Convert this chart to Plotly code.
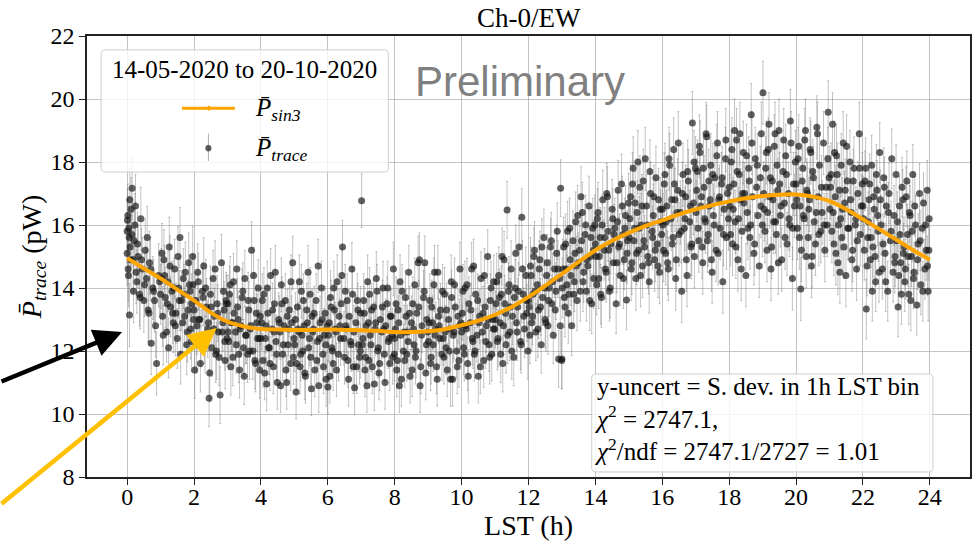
import plotly.graph_objects as go

# ---------------- data ----------------
fit_lst = [0, 0.5, 1, 1.5, 2, 2.5, 3, 3.5, 4, 4.5, 5, 5.5, 6, 6.5, 7, 7.5, 8, 8.5, 9, 9.5, 10, 10.5, 11, 11.5, 12,
           12.5, 13, 13.5, 14, 14.5, 15, 15.5, 16, 16.5, 17, 17.5, 18, 18.5, 19, 19.5, 20, 20.5, 21, 21.5, 22, 22.5,
           23, 23.5, 24]
fit_p = [14.95, 14.62, 14.3, 13.95, 13.6, 13.22, 12.93, 12.78, 12.7, 12.68, 12.67, 12.67, 12.68, 12.67, 12.66, 12.64,
         12.6, 12.6, 12.63, 12.69, 12.82, 12.96, 13.15, 13.4, 13.72, 14.07, 14.45, 14.83, 15.2, 15.5, 15.75, 15.97,
         16.15, 16.34, 16.5, 16.63, 16.75, 16.85, 16.92, 16.96, 16.97, 16.9, 16.76, 16.5, 16.18, 15.86, 15.53, 15.2,
         14.9]

# standard deviation in each 1h LST bin (y-uncertainty)
p_err_bin = [1.0, 0.95, 0.9, 0.9, 0.85, 0.85, 0.85, 0.85, 0.85, 0.85, 0.85, 0.9,
             0.9, 0.95, 0.95, 1.0, 1.0, 1.0, 1.0, 1.0, 1.0, 1.0, 0.95, 0.95]

lst_h = [
    0.00, 0.01, 0.03, 0.05, 0.07, 0.09, 0.12, 0.15, 0.18, 0.21, 0.25, 0.29, 0.33, 0.37, 0.41, 0.45, 0.50, 0.54, 0.58, 0.63, 0.67, 0.72, 0.77, 0.82, 0.88, 0.94,
    1.02, 1.06, 1.10, 1.14, 1.18, 1.22, 1.26, 1.30, 1.34, 1.38, 1.42, 1.46, 1.50, 1.54, 1.58, 1.62, 1.66, 1.70, 1.74, 1.78, 1.82, 1.86, 1.90, 1.93, 1.96, 1.99,
    2.02, 2.05, 2.09, 2.13, 2.17, 2.21, 2.25, 2.29, 2.33, 2.37, 2.41, 2.45, 2.49, 2.53, 2.57, 2.61, 2.65, 2.69, 2.73, 2.78, 2.82, 2.86, 2.90, 2.93, 2.96, 2.99,
    3.01, 3.04, 3.08, 3.12, 3.16, 3.20, 3.24, 3.28, 3.32, 3.36, 3.40, 3.44, 3.48, 3.52, 3.56, 3.60, 3.64, 3.68, 3.72, 3.76, 3.80, 3.84, 3.88, 3.92, 3.95, 3.98,
    4.02, 4.06, 4.09, 4.13, 4.17, 4.21, 4.25, 4.29, 4.33, 4.37, 4.41, 4.45, 4.49, 4.53, 4.57, 4.61, 4.65, 4.69, 4.73, 4.77, 4.81, 4.85, 4.89, 4.92, 4.95, 4.99,
    5.01, 5.05, 5.09, 5.13, 5.17, 5.21, 5.25, 5.29, 5.33, 5.37, 5.41, 5.45, 5.49, 5.53, 5.57, 5.61, 5.65, 5.69, 5.73, 5.77, 5.81, 5.85, 5.89, 5.92, 5.95, 5.98,
    6.00, 6.04, 6.08, 6.12, 6.16, 6.20, 6.24, 6.28, 6.32, 6.36, 6.40, 6.44, 6.48, 6.52, 6.56, 6.60, 6.64, 6.68, 6.72, 6.76, 6.80, 6.84, 6.88, 6.92, 6.95, 6.98,
    7.01, 7.05, 7.09, 7.13, 7.17, 7.21, 7.25, 7.29, 7.33, 7.37, 7.41, 7.45, 7.49, 7.53, 7.57, 7.61, 7.65, 7.69, 7.73, 7.77, 7.81, 7.85, 7.89, 7.93, 7.96, 7.99,
    8.02, 8.06, 8.10, 8.14, 8.18, 8.22, 8.26, 8.30, 8.34, 8.38, 8.42, 8.46, 8.50, 8.54, 8.58, 8.62, 8.66, 8.70, 8.74, 8.78, 8.82, 8.86, 8.90, 8.93, 8.96, 8.99,
    9.01, 9.05, 9.09, 9.13, 9.17, 9.21, 9.25, 9.29, 9.33, 9.37, 9.41, 9.45, 9.49, 9.53, 9.57, 9.61, 9.65, 9.69, 9.73, 9.77, 9.81, 9.85, 9.89, 9.92, 9.95, 9.98,
    10.02, 10.06, 10.10, 10.14, 10.18, 10.22, 10.26, 10.30, 10.34, 10.38, 10.42, 10.46, 10.50, 10.54, 10.58, 10.62, 10.66, 10.70, 10.74, 10.78, 10.82, 10.86, 10.90, 10.93, 10.96, 10.99,
    11.01, 11.05, 11.09, 11.13, 11.17, 11.21, 11.25, 11.29, 11.33, 11.36, 11.40, 11.44, 11.48, 11.52, 11.56, 11.60, 11.64, 11.68, 11.72, 11.76, 11.80, 11.84, 11.88, 11.92, 11.95, 11.98,
    12.02, 12.06, 12.10, 12.14, 12.18, 12.22, 12.26, 12.30, 12.34, 12.38, 12.42, 12.46, 12.50, 12.54, 12.58, 12.62, 12.66, 12.70, 12.74, 12.78, 12.82, 12.86, 12.90, 12.93, 12.96, 12.99,
    13.01, 13.05, 13.09, 13.13, 13.17, 13.21, 13.25, 13.29, 13.33, 13.37, 13.41, 13.45, 13.49, 13.53, 13.57, 13.61, 13.65, 13.69, 13.73, 13.77, 13.81, 13.85, 13.89, 13.92, 13.95, 13.98,
    14.02, 14.06, 14.10, 14.14, 14.18, 14.22, 14.26, 14.30, 14.34, 14.38, 14.42, 14.46, 14.50, 14.54, 14.58, 14.62, 14.66, 14.70, 14.74, 14.78, 14.82, 14.86, 14.90, 14.93, 14.96, 14.99,
    15.01, 15.05, 15.09, 15.13, 15.17, 15.21, 15.25, 15.29, 15.33, 15.37, 15.41, 15.45, 15.49, 15.53, 15.57, 15.61, 15.65, 15.69, 15.73, 15.77, 15.81, 15.85, 15.89, 15.92, 15.95, 15.98,
    16.02, 16.06, 16.10, 16.14, 16.18, 16.22, 16.26, 16.30, 16.34, 16.38, 16.42, 16.46, 16.50, 16.54, 16.58, 16.62, 16.66, 16.70, 16.74, 16.78, 16.82, 16.86, 16.90, 16.93, 16.96, 16.99,
    17.01, 17.05, 17.09, 17.13, 17.17, 17.21, 17.25, 17.29, 17.33, 17.37, 17.41, 17.45, 17.49, 17.53, 17.57, 17.61, 17.65, 17.69, 17.73, 17.77, 17.81, 17.85, 17.89, 17.92, 17.95, 17.98,
    18.02, 18.06, 18.10, 18.14, 18.18, 18.22, 18.26, 18.30, 18.34, 18.38, 18.42, 18.46, 18.50, 18.54, 18.58, 18.62, 18.66, 18.70, 18.74, 18.78, 18.82, 18.86, 18.90, 18.93, 18.96, 18.99,
    19.01, 19.05, 19.09, 19.13, 19.17, 19.21, 19.25, 19.29, 19.33, 19.37, 19.41, 19.45, 19.49, 19.53, 19.57, 19.61, 19.65, 19.69, 19.73, 19.77, 19.81, 19.85, 19.89, 19.92, 19.95, 19.98,
    20.02, 20.06, 20.10, 20.14, 20.18, 20.22, 20.26, 20.30, 20.34, 20.38, 20.42, 20.46, 20.50, 20.54, 20.58, 20.62, 20.66, 20.70, 20.74, 20.78, 20.82, 20.86, 20.90, 20.93, 20.96, 20.99,
    21.01, 21.05, 21.09, 21.13, 21.17, 21.21, 21.25, 21.29, 21.33, 21.37, 21.41, 21.45, 21.49, 21.53, 21.57, 21.61, 21.65, 21.69, 21.73, 21.77, 21.81, 21.85, 21.89, 21.92, 21.95, 21.98,
    22.02, 22.06, 22.10, 22.14, 22.18, 22.22, 22.26, 22.30, 22.34, 22.38, 22.42, 22.46, 22.50, 22.54, 22.58, 22.62, 22.66, 22.70, 22.74, 22.78, 22.82, 22.86, 22.90, 22.93, 22.96, 22.99,
    23.01, 23.05, 23.09, 23.13, 23.17, 23.21, 23.25, 23.29, 23.33, 23.37, 23.41, 23.45, 23.49, 23.53, 23.57, 23.61, 23.65, 23.69, 23.73, 23.77, 23.81, 23.85, 23.89, 23.92, 23.95, 23.98,
]

p_trace = [
    15.8, 16.15, 14.6, 15.9, 13.14, 15.3, 16.5, 17.17, 14.9, 15.5, 16.6, 14.2, 15.0, 13.8, 16.2, 14.6, 13.6, 15.2, 14.3, 13.3, 14.8, 12.25, 14.0, 13.6, 11.6, 14.4,
    14.3, 13.1, 14.9, 13.7, 12.6, 14.2, 15.3, 13.4, 13.9, 12.9, 14.6, 13.2, 12.4, 14.0, 15.6, 13.6, 12.9, 13.8, 14.5, 12.2, 13.3, 14.1, 12.7, 13.5, 15.0, 13.0,
    11.4, 13.6, 12.8, 14.2, 13.0, 12.4, 13.9, 14.7, 12.2, 13.4, 12.7, 10.5, 13.8, 12.1, 14.3, 13.1, 11.9, 13.5, 12.6, 10.6, 14.8, 12.9, 13.3, 11.7, 13.6, 12.4,
    13.5, 12.3, 14.1, 12.9, 11.8, 13.2, 12.6, 14.6, 13.0, 11.4, 12.8, 13.7, 12.1, 14.3, 12.5, 11.9, 13.3, 12.7, 15.2, 12.0, 13.6, 11.6, 12.9, 14.0, 12.4, 13.1,
    12.9, 11.7, 13.8, 12.4, 10.95, 13.2, 12.1, 14.4, 12.7, 11.5, 13.5, 12.3, 11.0, 13.0, 12.6, 14.1, 11.9, 12.8, 13.6, 11.0, 12.2, 13.3, 11.6, 12.9, 14.8, 12.4,
    12.2, 10.7, 13.4, 12.6, 11.5, 13.9, 12.0, 12.8, 11.2, 13.3, 14.5, 12.4, 11.8, 13.1, 12.7, 11.4, 13.6, 12.3, 10.9, 12.9, 14.0, 11.9, 12.5, 13.2, 11.1, 12.8,
    10.86, 12.9, 13.7, 12.1, 11.6, 13.3, 12.6, 14.2, 11.9, 12.8, 13.5, 15.3, 12.4, 13.9, 12.7, 11.7, 13.1, 12.3, 14.6, 11.5, 10.83, 12.9, 13.6, 12.2, 11.8, 13.2,
    16.77, 12.4, 13.2, 11.8, 10.9, 12.9, 13.8, 12.2, 11.5, 13.4, 12.7, 14.3, 12.0, 11.3, 13.0, 12.6, 14.0, 11.9, 12.8, 13.5, 12.3, 11.6, 13.1, 12.5, 14.6, 11.9,
    12.7, 11.4, 13.3, 10.9, 12.5, 13.9, 12.0, 11.7, 13.1, 12.6, 14.5, 11.2, 12.9, 13.5, 12.2, 11.8, 13.2, 14.8, 14.9, 11.5, 12.8, 13.7, 14.8, 11.3, 13.0, 12.6,
    12.3, 13.6, 11.8, 12.9, 14.1, 12.5, 11.5, 14.5, 12.8, 13.3, 11.9, 12.4, 13.8, 12.1, 11.4, 13.0, 12.7, 14.2, 11.1, 12.6, 13.4, 12.0, 13.1, 11.7, 14.6, 12.9,
    13.2, 12.1, 14.0, 12.7, 11.6, 13.5, 12.9, 14.6, 12.3, 11.9, 13.8, 12.5, 11.2, 13.1, 14.3, 12.6, 11.7, 13.4, 12.8, 15.0, 12.2, 13.6, 11.9, 13.0, 14.2, 12.7,
    13.0, 14.2, 12.4, 13.7, 11.9, 15.0, 12.8, 13.5, 12.2, 16.48, 13.9, 12.6, 14.6, 13.1, 11.8, 14.0, 12.9, 13.4, 15.3, 12.3, 16.25, 13.8, 12.7, 14.4, 13.2, 12.0,
    13.4, 14.7, 12.9, 13.8, 15.2, 12.6, 14.1, 13.3, 14.9, 12.2, 13.7, 15.6, 13.0, 14.4, 12.8, 14.0, 15.3, 13.5, 12.5, 14.6, 13.9, 15.8, 11.75, 14.3, 17.17, 11.7,
    14.0, 15.3, 13.4, 14.6, 15.8, 13.8, 14.9, 12.8, 15.5, 14.2, 16.1, 13.6, 14.8, 15.2, 16.9, 16.4, 14.5, 15.7, 13.9, 14.7, 16.6, 15.0, 13.5, 15.9, 14.3, 16.0,
    15.0, 16.2, 14.3, 15.6, 13.7, 16.8, 15.2, 14.6, 17.0, 15.8, 13.9, 15.4, 16.5, 14.8, 15.9, 13.5, 16.1, 15.3, 14.4, 17.3, 15.7, 14.9, 16.3, 13.62, 15.5, 16.7,
    15.6, 16.9, 14.8, 17.8, 15.9, 14.3, 16.4, 15.2, 17.2, 16.0, 14.7, 15.5, 18.1, 16.6, 15.0, 14.2, 17.0, 15.8, 16.3, 14.9, 17.5, 15.4, 16.8, 14.5, 16.1, 15.7,
    16.0, 17.3, 15.1, 16.6, 14.6, 17.9, 16.2, 15.4, 18.4, 16.8, 14.9, 17.1, 15.7, 16.4, 13.9, 17.6, 15.9, 16.9, 14.4, 17.4, 16.1, 15.3, 19.24, 16.7, 15.0, 17.8,
    16.4, 17.7, 15.5, 18.3, 16.9, 14.8, 17.2, 16.1, 18.8, 15.7, 16.6, 17.9, 14.5, 16.3, 17.5, 15.2, 18.6, 16.8, 15.9, 17.3, 14.2, 16.5, 18.1, 15.6, 17.0, 16.2,
    16.6, 18.0, 15.4, 17.3, 16.1, 18.7, 14.9, 17.6, 16.8, 15.8, 18.3, 17.0, 14.4, 16.4, 17.8, 15.6, 19.5, 16.9, 15.1, 18.1, 17.2, 16.3, 14.7, 17.5, 18.9, 16.0,
    20.2, 16.5, 17.8, 15.2, 18.4, 16.9, 14.6, 17.4, 16.1, 18.9, 15.7, 17.1, 19.0, 16.3, 14.9, 17.7, 16.7, 18.2, 15.4, 17.0, 16.0, 18.6, 14.3, 17.3, 16.6, 18.0,
    16.8, 18.1, 15.6, 13.97, 17.4, 16.3, 18.7, 15.0, 17.0, 16.5, 18.4, 14.7, 17.7, 16.1, 15.4, 19.1, 16.9, 17.9, 15.8, 16.4, 18.6, 15.2, 17.2, 16.0, 19.58, 17.5,
    16.5, 17.6, 19.2, 15.4, 16.9, 18.2, 14.8, 17.1, 16.2, 15.6, 18.6, 16.7, 14.4, 17.4, 15.9, 18.0, 16.4, 15.2, 17.8, 16.0, 14.6, 17.0, 18.9, 15.7, 16.6, 17.3,
    16.2, 17.4, 13.33, 15.6, 16.8, 14.9, 17.9, 15.3, 16.5, 14.2, 17.1, 15.8, 18.3, 16.0, 14.6, 17.5, 15.1, 16.6, 13.9, 17.0, 15.5, 18.1, 14.5, 16.3, 15.0, 17.6,
    15.5, 13.4, 16.6, 14.8, 17.2, 15.1, 14.2, 16.9, 15.7, 13.8, 16.3, 15.0, 17.6, 14.5, 16.0, 13.46, 15.4, 17.0, 14.1, 15.9, 16.7, 14.6, 15.2, 17.1, 13.9, 16.2,
]

# further samples of the same data set
lst_h_more = [
    0.00, 0.02, 0.04, 0.06, 0.08, 0.11, 0.14, 0.19, 0.23, 0.27, 0.31, 0.39, 0.43, 0.52, 0.60, 0.65, 0.70, 0.79, 0.85, 0.97,
    1.00, 1.04, 1.08, 1.12, 1.20, 1.24, 1.28, 1.36, 1.40, 1.44, 1.52, 1.56, 1.60, 1.68, 1.72, 1.80, 1.84, 1.88, 1.92, 1.97,
    2.00, 2.07, 2.11, 2.15, 2.19, 2.27, 2.31, 2.35, 2.43, 2.47, 2.51, 2.59, 2.63, 2.67, 2.71, 2.75, 2.84, 2.88, 2.92, 2.97,
    3.02, 3.06, 3.10, 3.14, 3.18, 3.26, 3.30, 3.34, 3.38, 3.46, 3.50, 3.54, 3.62, 3.66, 3.70, 3.78, 3.82, 3.86, 3.90, 3.96,
    4.00, 4.04, 4.11, 4.15, 4.19, 4.23, 4.27, 4.35, 4.39, 4.43, 4.47, 4.55, 4.59, 4.63, 4.67, 4.75, 4.79, 4.83, 4.90, 4.97,
    5.03, 5.07, 5.11, 5.15, 5.19, 5.23, 5.27, 5.31, 5.39, 5.43, 5.47, 5.51, 5.55, 5.59, 5.67, 5.71, 5.75, 5.83, 5.87, 5.94,
    6.02, 6.06, 6.10, 6.14, 6.18, 6.22, 6.26, 6.34, 6.38, 6.42, 6.50, 6.54, 6.58, 6.62, 6.70, 6.74, 6.78, 6.86, 6.90, 6.97,
    7.03, 7.07, 7.11, 7.15, 7.19, 7.23, 7.27, 7.31, 7.39, 7.43, 7.47, 7.51, 7.55, 7.63, 7.67, 7.71, 7.79, 7.83, 7.87, 7.94,
    8.00, 8.04, 8.08, 8.12, 8.16, 8.20, 8.28, 8.32, 8.36, 8.40, 8.44, 8.52, 8.56, 8.60, 8.64, 8.72, 8.76, 8.80, 8.88, 8.95,
    9.03, 9.07, 9.11, 9.15, 9.19, 9.23, 9.27, 9.31, 9.35, 9.43, 9.47, 9.51, 9.55, 9.63, 9.67, 9.70, 9.75, 9.79, 9.87, 9.94,
    10.00, 10.04, 10.08, 10.12, 10.16, 10.20, 10.28, 10.32, 10.36, 10.40, 10.48, 10.52, 10.56, 10.64, 10.68, 10.72, 10.80, 10.84, 10.88, 10.95,
    11.03, 11.07, 11.11, 11.15, 11.19, 11.23, 11.27, 11.31, 11.38, 11.42, 11.46, 11.50, 11.58, 11.62, 11.66, 11.70, 11.78, 11.82, 11.86, 11.94,
    12.00, 12.04, 12.08, 12.12, 12.16, 12.20, 12.28, 12.32, 12.36, 12.40, 12.48, 12.52, 12.56, 12.60, 12.68, 12.72, 12.80, 12.84, 12.88, 12.95,
    13.00, 13.03, 13.07, 13.11, 13.15, 13.19, 13.23, 13.27, 13.35, 13.39, 13.43, 13.47, 13.55, 13.59, 13.63, 13.71, 13.75, 13.83, 13.87, 13.94,
    14.00, 14.04, 14.08, 14.12, 14.16, 14.20, 14.28, 14.32, 14.36, 14.40, 14.44, 14.52, 14.56, 14.64, 14.68, 14.72, 14.80, 14.84, 14.88, 14.95,
    15.03, 15.07, 15.11, 15.15, 15.19, 15.23, 15.27, 15.31, 15.35, 15.39, 15.43, 15.47, 15.55, 15.59, 15.63, 15.71, 15.75, 15.79, 15.87, 15.94,
    16.00, 16.04, 16.08, 16.12, 16.16, 16.20, 16.28, 16.32, 16.36, 16.40, 16.44, 16.48, 16.56, 16.60, 16.68, 16.72, 16.76, 16.84, 16.88, 16.95,
    17.03, 17.07, 17.11, 17.15, 17.19, 17.23, 17.27, 17.31, 17.35, 17.39, 17.43, 17.47, 17.51, 17.55, 17.63, 17.67, 17.71, 17.79, 17.83, 17.90,
    18.00, 18.04, 18.08, 18.12, 18.16, 18.20, 18.24, 18.28, 18.32, 18.36, 18.40, 18.44, 18.52, 18.56, 18.60, 18.64, 18.68, 18.76, 18.84, 18.95,
    19.03, 19.07, 19.11, 19.15, 19.19, 19.23, 19.27, 19.31, 19.35, 19.39, 19.43, 19.47, 19.51, 19.55, 19.63, 19.67, 19.71, 19.79, 19.83, 19.90,
    20.00, 20.04, 20.08, 20.12, 20.16, 20.20, 20.24, 20.28, 20.32, 20.36, 20.40, 20.44, 20.48, 20.52, 20.60, 20.64, 20.68, 20.76, 20.84, 20.95,
    21.03, 21.07, 21.11, 21.15, 21.19, 21.23, 21.27, 21.31, 21.35, 21.39, 21.43, 21.47, 21.51, 21.55, 21.63, 21.67, 21.71, 21.79, 21.83, 21.90,
    22.00, 22.04, 22.08, 22.12, 22.16, 22.20, 22.24, 22.28, 22.32, 22.36, 22.40, 22.44, 22.48, 22.52, 22.60, 22.64, 22.68, 22.76, 22.84, 22.95,
    23.03, 23.07, 23.11, 23.15, 23.19, 23.23, 23.27, 23.31, 23.35, 23.39, 23.43, 23.47, 23.51, 23.55, 23.63, 23.71, 23.79, 23.87, 23.93, 23.97,
]

p_trace_more = [
    15.1, 16.3, 14.4, 15.6, 16.8, 14.9, 15.7, 13.9, 16.0, 14.5, 15.4, 13.7, 14.9, 14.1, 15.6, 13.2, 14.6, 13.9, 12.8, 14.2,
    13.8, 15.1, 12.5, 14.4, 13.5, 12.1, 14.7, 13.2, 14.0, 12.8, 15.0, 13.6, 11.9, 14.3, 13.1, 12.6, 14.8, 13.9, 12.3, 14.1,
    13.3, 12.2, 14.5, 13.0, 11.6, 13.7, 12.5, 14.0, 12.9, 11.3, 13.4, 12.7, 14.6, 12.0, 13.2, 11.8, 12.6, 13.9, 12.3, 13.5,
    12.6, 13.8, 11.5, 12.9, 14.2, 12.2, 13.4, 11.9, 12.7, 13.9, 11.2, 12.5, 13.6, 12.0, 12.8, 14.4, 11.7, 13.2, 12.4, 11.4,
    12.4, 13.6, 11.3, 12.8, 14.0, 12.1, 11.6, 13.3, 12.6, 14.5, 11.9, 12.9, 10.9, 13.5, 12.2, 11.4, 13.1, 12.7, 14.2, 11.8,
    13.0, 11.6, 12.7, 14.2, 11.9, 12.5, 13.6, 11.3, 12.9, 12.1, 13.8, 10.8, 12.6, 13.2, 11.7, 14.7, 12.4, 13.0, 11.5, 12.2,
    12.5, 11.2, 13.4, 12.0, 14.0, 12.7, 11.4, 13.1, 12.4, 14.4, 11.8, 12.8, 13.6, 11.1, 12.2, 13.8, 12.6, 11.5, 13.3, 12.0,
    12.2, 13.6, 11.4, 12.8, 14.2, 11.7, 12.5, 13.3, 10.95, 12.9, 13.9, 12.1, 11.6, 13.4, 12.7, 11.0, 14.0, 12.4, 13.1, 11.8,
    12.4, 13.5, 11.7, 12.9, 14.2, 11.1, 12.6, 13.7, 11.9, 12.3, 13.2, 11.4, 12.7, 14.1, 12.0, 13.4, 10.9, 12.5, 13.9, 12.2,
    12.9, 11.6, 13.4, 12.2, 14.5, 12.7, 11.1, 13.1, 12.4, 13.9, 11.8, 12.6, 13.3, 12.0, 11.1, 13.7, 12.5, 14.1, 11.5, 12.8,
    12.6, 13.9, 11.9, 12.8, 14.1, 11.2, 13.3, 12.4, 14.7, 12.0, 13.6, 12.9, 11.5, 13.2, 14.4, 12.3, 13.0, 11.8, 14.0, 12.7,
    13.5, 12.3, 14.4, 12.9, 13.8, 11.6, 14.9, 13.2, 12.5, 14.1, 13.4, 12.0, 13.7, 15.1, 12.6, 13.9, 12.2, 14.6, 13.1, 13.6,
    13.6, 12.5, 14.4, 13.1, 15.0, 13.9, 12.7, 14.6, 13.4, 15.3, 14.0, 12.9, 14.8, 13.6, 15.5, 14.2, 13.3, 15.1, 14.6, 12.8,
    11.75, 14.6, 13.7, 15.4, 14.1, 13.2, 15.9, 14.4, 13.8, 15.1, 14.7, 16.3, 13.9, 15.5, 14.2, 16.0, 14.9, 13.6, 15.6, 15.2,
    15.4, 14.1, 16.4, 15.0, 13.8, 16.0, 15.6, 14.5, 16.9, 15.2, 14.0, 16.2, 15.7, 14.8, 17.1, 15.4, 16.6, 14.3, 15.9, 15.1,
    16.2, 14.6, 17.3, 15.5, 16.7, 15.1, 18.0, 15.9, 14.4, 16.6, 17.4, 15.3, 16.0, 14.8, 17.7, 15.6, 16.9, 15.2, 14.7, 16.5,
    16.5, 15.2, 17.6, 16.1, 14.8, 18.1, 16.8, 15.6, 17.3, 14.3, 16.4, 18.6, 15.8, 17.0, 16.2, 14.9, 17.7, 16.6, 15.4, 18.0,
    17.1, 15.9, 18.5, 16.6, 15.3, 17.8, 16.2, 18.9, 15.5, 17.4, 16.8, 14.9, 17.6, 16.0, 18.2, 15.1, 16.9, 17.5, 15.7, 18.7,
    17.2, 15.7, 18.4, 16.5, 19.0, 15.3, 17.7, 16.2, 18.9, 14.6, 17.0, 16.7, 18.2, 15.9, 17.4, 16.0, 18.6, 15.4, 17.9, 16.6,
    17.0, 15.8, 18.3, 16.4, 19.2, 17.5, 15.3, 16.8, 18.5, 16.1, 17.9, 14.8, 17.3, 16.6, 18.7, 15.6, 17.6, 16.2, 19.3, 15.9,
    17.3, 15.9, 18.5, 16.6, 15.2, 17.8, 16.2, 19.0, 17.1, 15.6, 16.8, 18.3, 15.0, 17.5, 16.4, 18.9, 15.7, 17.2, 16.0, 18.1,
    17.2, 15.8, 16.4, 18.3, 15.1, 17.6, 16.0, 14.5, 17.9, 16.5, 15.3, 17.1, 18.5, 15.9, 16.8, 14.9, 17.4, 16.2, 15.5, 17.8,
    16.6, 15.2, 17.8, 14.7, 16.1, 17.3, 15.6, 13.9, 16.9, 15.0, 17.6, 16.3, 14.5, 16.8, 15.4, 17.2, 14.2, 16.4, 15.8, 14.8,
    16.1, 14.4, 15.7, 13.8, 16.8, 15.3, 14.6, 17.4, 15.0, 16.4, 13.6, 15.8, 14.3, 16.6, 14.9, 15.5, 13.9, 16.0, 14.7, 15.2,
]

x_ticks = list(range(0, 25, 2))
y_ticks = list(range(8, 23, 2))

title_text = "Ch-0/EW"
legend_title = "14-05-2020 to 20-10-2020"
info_lines = ["y-uncert = S. dev. in 1h LST bin",
              "<i>χ</i><sup>2</sup> = 2747.1,",
              "<i>χ</i><sup>2</sup>/ndf = 2747.1/2727 = 1.01"]

# ---------------- figure ----------------
SERIF = "Liberation Serif"
all_x = lst_h + lst_h_more
all_y = p_trace + p_trace_more
all_err = [p_err_bin[min(int(x), 23)] for x in all_x]

fig = go.Figure()
fig.add_trace(go.Scatter(
    x=all_x, y=all_y, mode="markers",
    marker=dict(size=7, color="rgba(22,22,22,0.68)", line=dict(width=0)),
    error_y=dict(type="data", array=all_err, visible=True, color="rgba(125,125,125,0.45)",
                 thickness=1, width=1),
    showlegend=False, hoverinfo="skip"))
fig.add_trace(go.Scatter(
    x=fit_lst, y=fit_p, mode="lines", line=dict(color="#FFA500", width=4, shape="spline", smoothing=0.6),
    showlegend=False, hoverinfo="skip"))


def rbox(x0, x1, y0, y1, rx=0.13, ry=0.13):
    return (f"M {x0+rx},{y1} L {x1-rx},{y1} Q {x1},{y1} {x1},{y1-ry} L {x1},{y0+ry} "
            f"Q {x1},{y0} {x1-rx},{y0} L {x0+rx},{y0} Q {x0},{y0} {x0},{y0+ry} "
            f"L {x0},{y1-ry} Q {x0},{y1} {x0+rx},{y1} Z")


shapes = [
    dict(type="path", xref="x", yref="y", path=rbox(-0.78, 7.81, 17.68, 21.56),
         fillcolor="rgba(255,255,255,0.8)", line=dict(color="rgba(200,200,200,0.9)", width=1), layer="above"),
    dict(type="path", xref="x", yref="y", path=rbox(13.89, 24.09, 8.16, 11.27),
         fillcolor="rgba(255,255,255,0.8)", line=dict(color="rgba(200,200,200,0.9)", width=1), layer="above"),
    dict(type="line", xref="x", yref="y", x0=1.64, x1=3.22, y0=19.71, y1=19.71,
         line=dict(color="#FFA500", width=3), layer="above"),
    dict(type="circle", xref="x", yref="y", x0=2.40, x1=2.49, y0=19.63, y1=19.79,
         fillcolor="#FFA500", line=dict(width=0), layer="above"),
    dict(type="line", xref="x", yref="y", x0=2.43, x1=2.43, y0=18.03, y1=18.9,
         line=dict(color="rgba(120,120,120,0.6)", width=1), layer="above"),
    dict(type="circle", xref="x", yref="y", x0=2.34, x1=2.52, y0=18.34, y1=18.54,
         fillcolor="rgba(60,60,60,0.85)", line=dict(width=0), layer="above"),
]

annotations = [
    dict(text=title_text, xref="paper", yref="paper", x=0.5, y=1.0, xanchor="center", yanchor="bottom",
         showarrow=False, font=dict(family=SERIF, size=27, color="black"), yshift=1),
    dict(text=legend_title, xref="x", yref="y", x=3.52, y=20.95, xanchor="center", yanchor="middle",
         showarrow=False, font=dict(family=SERIF, size=25, color="black")),
    dict(text="<i>P̄</i><sub><i>sin3</i></sub>", xref="x", yref="y", x=3.76, y=19.68, xanchor="left",
         yanchor="middle", showarrow=False, font=dict(family=SERIF, size=25, color="black")),
    dict(text="<i>P̄</i><sub><i>trace</i></sub>", xref="x", yref="y", x=3.76, y=18.40, xanchor="left",
         yanchor="middle", showarrow=False, font=dict(family=SERIF, size=25, color="black")),
    dict(text="Preliminary", xref="x", yref="y", x=11.75, y=20.56, xanchor="center", yanchor="middle",
         showarrow=False, font=dict(family="Liberation Sans", size=42, color="#808080")),
    dict(text="<br>".join(info_lines), xref="x", yref="y", x=13.93, y=9.85, xanchor="left", yanchor="middle",
         align="left", showarrow=False, font=dict(family=SERIF, size=25, color="black")),
    dict(text="", xref="x", yref="y", x=-0.15, y=12.6, ax=-132, ay=50, axref="pixel", ayref="pixel",
         showarrow=True, arrowhead=2, arrowsize=1.25, arrowwidth=4.5, arrowcolor="black", standoff=0),
    dict(text="", xref="x", yref="y", x=2.68, y=12.73, ax=-227, ay=177, axref="pixel", ayref="pixel",
         showarrow=True, arrowhead=2, arrowsize=1.25, arrowwidth=4.5, arrowcolor="#FFC000", standoff=0),
]

axis_common = dict(showline=True, linecolor="#222222", linewidth=1.5, mirror=True,
                   ticks="outside", ticklen=6, tickwidth=1.2, tickcolor="#222222",
                   showgrid=True, gridcolor="rgba(176,176,176,0.75)", gridwidth=1, zeroline=False,
                   tickfont=dict(family=SERIF, size=24, color="black"))

fig.update_layout(
    width=975, height=547,
    margin=dict(l=87, r=3, t=36, b=70),
    plot_bgcolor="white", paper_bgcolor="white",
    showlegend=False,
    shapes=shapes, annotations=annotations,
    xaxis=dict(range=[-1.2, 25.2], tickvals=x_ticks, ticklabelstandoff=-9,
               title=dict(text="LST (h)", font=dict(family=SERIF, size=28, color="black"), standoff=2),
               **axis_common),
    yaxis=dict(range=[8, 22], tickvals=y_ticks,
               title=dict(text="<i>P̄</i><sub><i>trace</i></sub> (pW)", font=dict(family=SERIF, size=28, color="black"),
                          standoff=0),
               **axis_common),
)

fig.write_html("out.html")
